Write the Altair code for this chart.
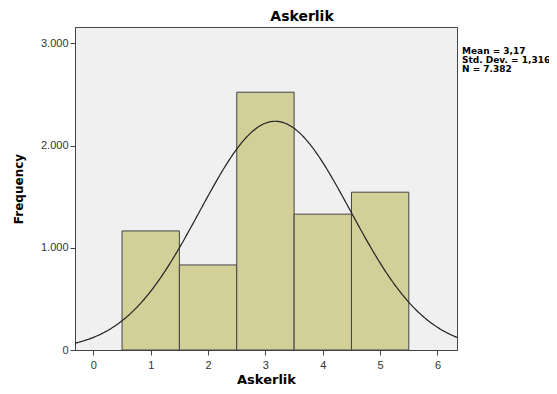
import altair as alt
import pandas as pd
import numpy as np

# Data
categories = [1, 2, 3, 4, 5]
frequencies = [1165, 832, 2522, 1329, 1544]

# Stats shown in the annotation (used for the fitted normal curve)
mean_val = 3.17
sd_val = 1.316
n_val = 7382
annot_lines = ["Mean = 3,17", "Std. Dev. = 1,316", "N = 7.382"]

x_ticks = [0, 1, 2, 3, 4, 5, 6]
y_ticks = [0, 1000, 2000, 3000]

x_domain = [-0.32, 6.34]
y_domain = [0, 3160]

bars = pd.DataFrame({
    "value": categories,
    "start": [c - 0.5 for c in categories],
    "end": [c + 0.5 for c in categories],
    "freq": frequencies,
})

xs = np.linspace(x_domain[0], x_domain[1], 300)
curve = pd.DataFrame({
    "x": xs,
    "y": n_val * 1.0 / (sd_val * np.sqrt(2 * np.pi)) * np.exp(-0.5 * ((xs - mean_val) / sd_val) ** 2),
})

annot = pd.DataFrame({"line": ["\n".join(annot_lines)]})

FONT = "Liberation Sans"
BOLD = "DejaVu Sans"

x_scale = alt.Scale(domain=x_domain, nice=False, zero=False)
y_scale = alt.Scale(domain=y_domain, nice=False)

x_axis = alt.Axis(values=x_ticks, title="Askerlik", grid=False, tickSize=5,
                  labelFont=FONT, labelFontSize=11, labelColor="#333333",
                  titleFont=BOLD, titleFontSize=13, titleFontWeight="bold",
                  titleColor="#000000", titlePadding=3, domainColor="#444444",
                  tickColor="#444444", labelPadding=4, format="d")
y_axis = alt.Axis(values=y_ticks, title="Frequency", grid=False, tickSize=5,
                  labelFont=FONT, labelFontSize=11, labelColor="#333333",
                  labelExpr="replace(format(datum.value, ','), ',', '.')",
                  titleFont=BOLD, titleFontSize=12, titleFontWeight="bold",
                  titleColor="#000000", titlePadding=15, domainColor="#444444",
                  tickColor="#444444", labelPadding=2)

bar_layer = alt.Chart(bars).mark_rect(
    fill="#d3cf98", stroke="#444444", strokeWidth=1
).encode(
    x=alt.X("start:Q", scale=x_scale, axis=x_axis),
    x2="end:Q",
    y=alt.Y("freq:Q", scale=y_scale, axis=y_axis),
    y2=alt.datum(0),
)

curve_layer = alt.Chart(curve).mark_line(
    color="#222222", strokeWidth=1.2, clip=True
).encode(
    x=alt.X("x:Q", scale=x_scale),
    y=alt.Y("y:Q", scale=y_scale),
)

W = 382
H = 323

annot_layer = alt.Chart(annot).mark_text(
    align="left", baseline="top", font=BOLD, fontSize=9, fontWeight="bold",
    color="#000000", lineBreak="\n", lineHeight=9
).encode(
    x=alt.value(W + 5),
    y=alt.value(20),
    text="line:N",
)

chart = alt.layer(bar_layer, curve_layer, annot_layer).properties(
    width=W,
    height=H,
    background="#ffffff",
    title=alt.TitleParams("Askerlik", font=BOLD, fontSize=14, fontWeight="bold",
                          color="#000000", offset=3, anchor="middle", dx=36),
    autosize=alt.AutoSizeParams(type="none"),
    padding={"left": 67, "top": 19, "right": 92, "bottom": 36},
).configure_view(
    fill="#f0f0f0", stroke="#444444", strokeWidth=1
)

chart.save("out.html", embed_options={"renderer": "svg", "actions": False})
